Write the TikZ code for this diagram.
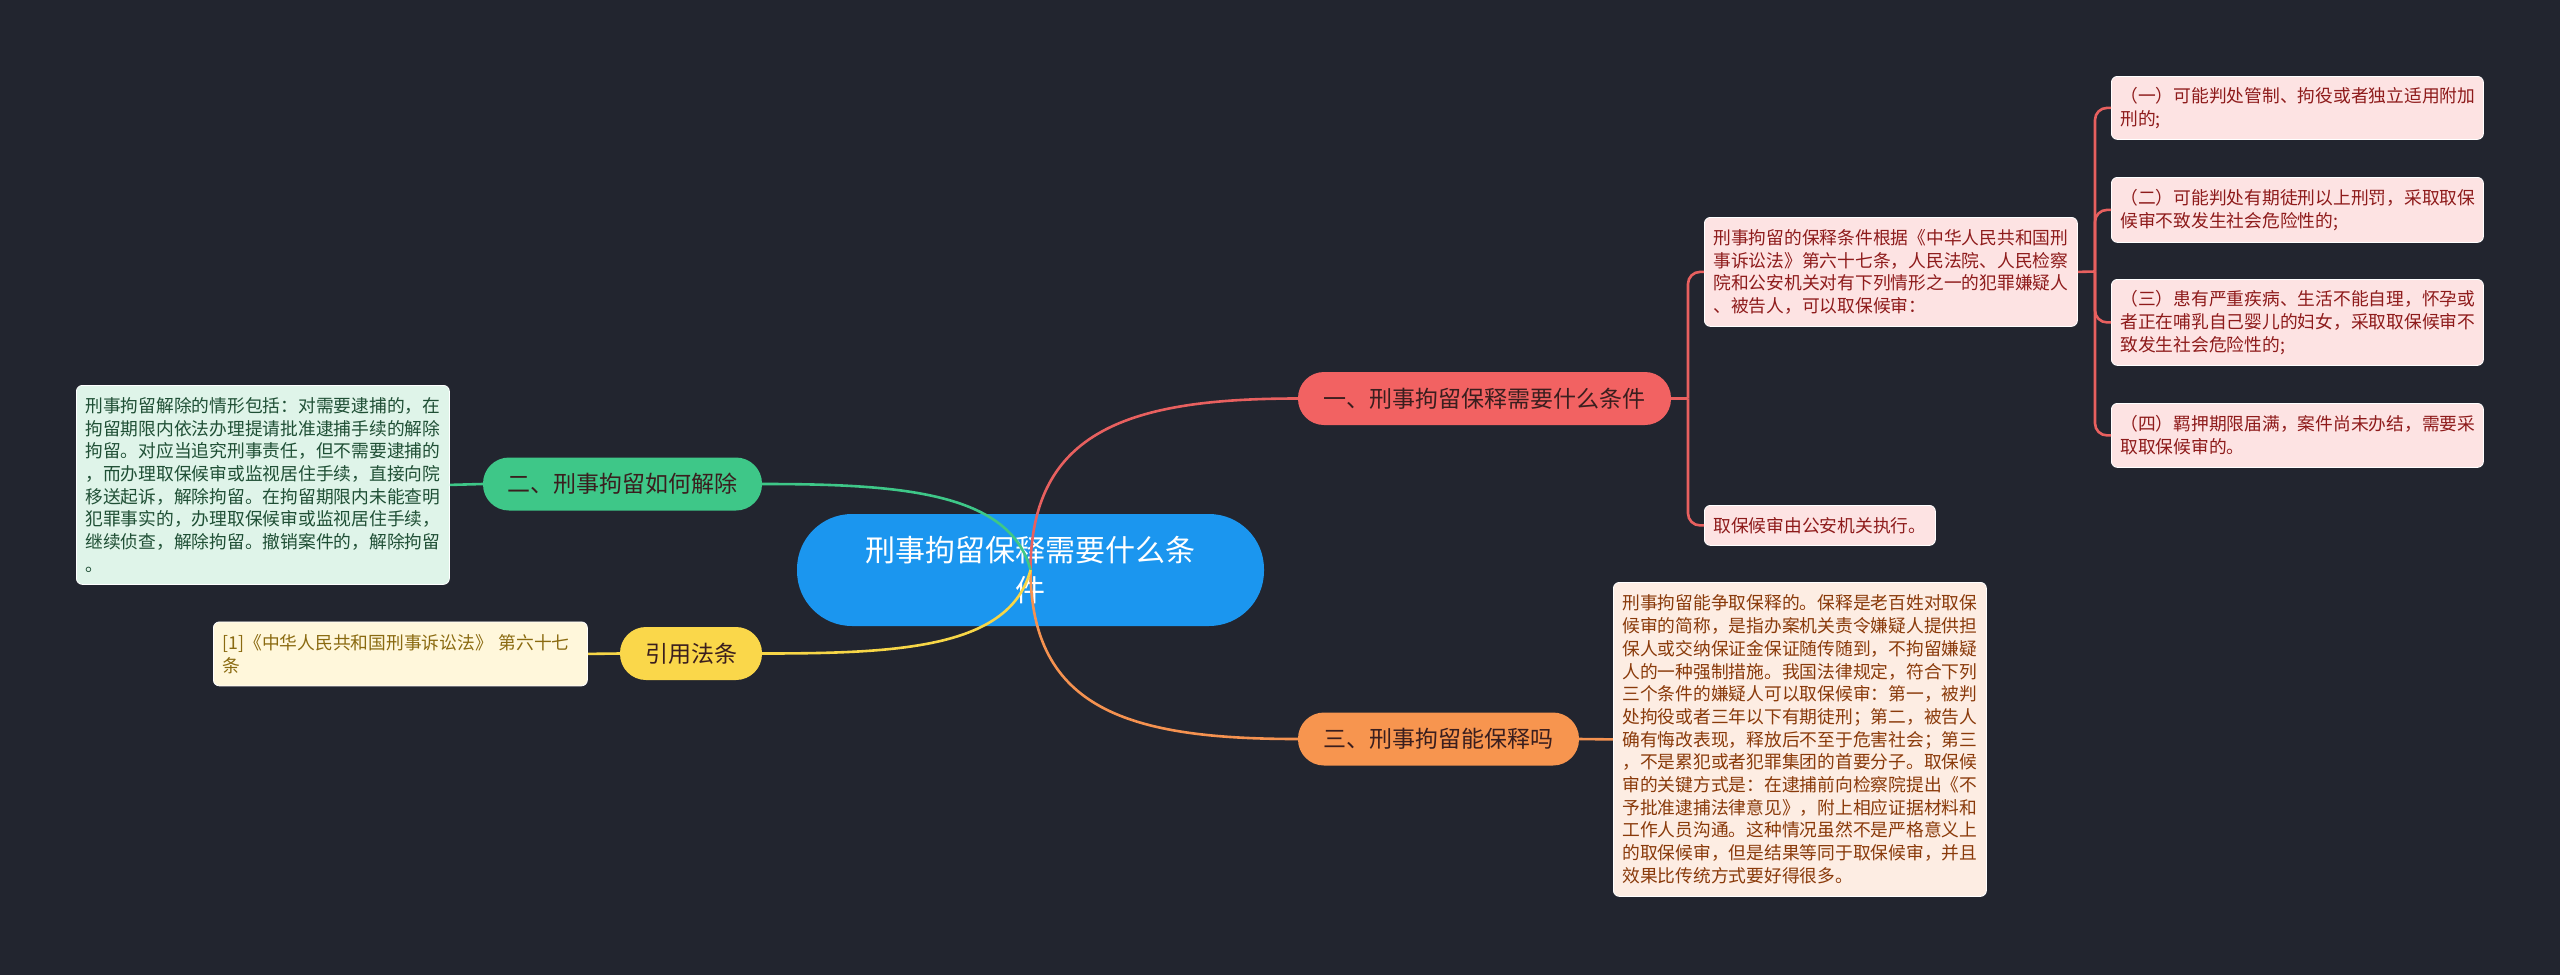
\documentclass[tikz,border=0pt]{standalone}
\usepackage{fontspec}
\setmainfont{Noto Sans CJK SC}
\definecolor{bg}{HTML}{22252F}
\definecolor{cblue}{HTML}{1B96EF}
\definecolor{nred}{HTML}{F26262}
\definecolor{norange}{HTML}{F7954F}
\definecolor{ngreen}{HTML}{3EC788}
\definecolor{nyellow}{HTML}{FAD74A}
\definecolor{lred}{HTML}{E8605F}
\definecolor{lorange}{HTML}{F59250}
\definecolor{lgreen}{HTML}{3EC788}
\definecolor{lyellow}{HTML}{F7D647}
\definecolor{fpink}{HTML}{FDE3E3}
\definecolor{tpink}{HTML}{8E1B1B}
\definecolor{fpeach}{HTML}{FDEDE3}
\definecolor{tpeach}{HTML}{8A3A0A}
\definecolor{fgreen}{HTML}{DFF4E9}
\definecolor{tgreen}{HTML}{1F4F35}
\definecolor{fyellow}{HTML}{FFF7DB}
\definecolor{tyellow}{HTML}{8A6A10}
\definecolor{tdark}{HTML}{3A1E1E}
\begin{document}
\begin{tikzpicture}[x=1pt,y=-1pt,
  box/.style={draw=white, line width=0.8pt, rounded corners=6pt, anchor=north west,
    inner xsep=9pt, inner ysep=0pt, align=left, font=\fontsize{17.75}{22.7}\selectfont},
  branch/.style={rounded corners=26pt, minimum height=53pt, inner sep=0pt,
    text=tdark, font=\fontsize{23}{28}\selectfont},
  mainline/.style={line width=2.6pt},
  subline/.style={line width=2.6pt, rounded corners=12pt}]
\useasboundingbox (0,0) rectangle (2560,975);
\fill[bg] (0,0) rectangle (2560,975);

% central node
\node[fill=cblue, rounded corners=55pt, minimum width=467pt, minimum height=112pt,
  inner sep=0pt, text=white, align=center, font=\fontsize{30}{40}\selectfont]
  (c) at (1030.5,570) {刑事拘留保释需要什么条\\件};

% branch nodes
\node[branch, fill=nred, minimum width=373pt] (n1) at (1484.5,398.5) {一、刑事拘留保释需要什么条件};
\node[branch, fill=norange, minimum width=281pt] (n3) at (1438.5,739) {三、刑事拘留能保释吗};
\node[branch, fill=ngreen, minimum width=279pt] (n2) at (622.5,484) {二、刑事拘留如何解除};
\node[branch, fill=nyellow, minimum width=142pt] (n4) at (691,653.5) {引用法条};

% boxes of branch one
\node[box, fill=fpink, text=tpink, text width=355pt, minimum height=109pt] (a) at (1704,217)
  {刑事拘留的保释条件根据《中华人民共和国刑\\事诉讼法》第六十七条，人民法院、人民检察\\院和公安机关对有下列情形之一的犯罪嫌疑人\\、被告人，可以取保候审：};
\node[box, fill=fpink, text=tpink, minimum height=40pt] (b) at (1704,505)
  {取保候审由公安机关执行。};
\node[box, fill=fpink, text=tpink, text width=354pt, minimum height=63pt] (r1) at (2111,76)
  {（一）可能判处管制、拘役或者独立适用附加\\刑的;};
\node[box, fill=fpink, text=tpink, text width=354pt, minimum height=65pt] (r2) at (2111,177)
  {（二）可能判处有期徒刑以上刑罚，采取取保\\候审不致发生社会危险性的;};
\node[box, fill=fpink, text=tpink, text width=354pt, minimum height=86pt] (r3) at (2111,279)
  {（三）患有严重疾病、生活不能自理，怀孕或\\者正在哺乳自己婴儿的妇女，采取取保候审不\\致发生社会危险性的;};
\node[box, fill=fpink, text=tpink, text width=354pt, minimum height=64pt] (r4) at (2111,403)
  {（四）羁押期限届满，案件尚未办结，需要采\\取取保候审的。};

% box of branch three
\node[box, fill=fpeach, text=tpeach, text width=355pt, minimum height=314pt] (cb) at (1613,582)
  {刑事拘留能争取保释的。保释是老百姓对取保\\候审的简称，是指办案机关责令嫌疑人提供担\\保人或交纳保证金保证随传随到，不拘留嫌疑\\人的一种强制措施。我国法律规定，符合下列\\三个条件的嫌疑人可以取保候审：第一，被判\\处拘役或者三年以下有期徒刑；第二，被告人\\确有悔改表现，释放后不至于危害社会；第三\\，不是累犯或者犯罪集团的首要分子。取保候\\审的关键方式是：在逮捕前向检察院提出《不\\予批准逮捕法律意见》，附上相应证据材料和\\工作人员沟通。这种情况虽然不是严格意义上\\的取保候审，但是结果等同于取保候审，并且\\效果比传统方式要好得很多。};

% box of branch two
\node[box, fill=fgreen, text=tgreen, text width=355pt, minimum height=199pt] (d) at (76,385)
  {刑事拘留解除的情形包括：对需要逮捕的，在\\拘留期限内依法办理提请批准逮捕手续的解除\\拘留。对应当追究刑事责任，但不需要逮捕的\\，而办理取保候审或监视居住手续，直接向院\\移送起诉，解除拘留。在拘留期限内未能查明\\犯罪事实的，办理取保候审或监视居住手续，\\继续侦查，解除拘留。撤销案件的，解除拘留\\。};

% box of reference branch
\node[box, fill=fyellow, text=tyellow, text width=356pt, minimum height=64pt] (e) at (213,621.5)
  {[1]《中华人民共和国刑事诉讼法》 第六十七\\条};

% main connectors
\draw[mainline, lred] (c.center) .. controls (1031,430) and (1130,398.5) .. (n1.west);
\draw[mainline, lorange] (c.center) .. controls (1031,710) and (1130,739) .. (n3.west);
\draw[mainline, lgreen] (c.center) .. controls (1010,492) and (900,484) .. (n2.east);
\draw[mainline, lyellow] (c.center) .. controls (1010,648) and (900,653.5) .. (n4.east);

% sub connectors
\coordinate (j1) at (1688,398.5);
\draw[subline, lred] (n1.east) -- (j1);
\draw[subline, lred] (j1) |- (a.west);
\draw[subline, lred] (j1) |- (b.west);
\coordinate (j2) at (2095,271.5);
\draw[subline, lred] (a.east) -- (j2);
\draw[subline, lred] (j2) |- (r1.west);
\draw[subline, lred] (j2) |- (r2.west);
\draw[subline, lred] (j2) |- (r3.west);
\draw[subline, lred] (j2) |- (r4.west);
\draw[subline, lorange] (n3.east) -- (cb.west);
\draw[subline, lgreen] (n2.west) -- (d.east);
\draw[subline, lyellow] (n4.west) -- (e.east);
\end{tikzpicture}
\end{document}
